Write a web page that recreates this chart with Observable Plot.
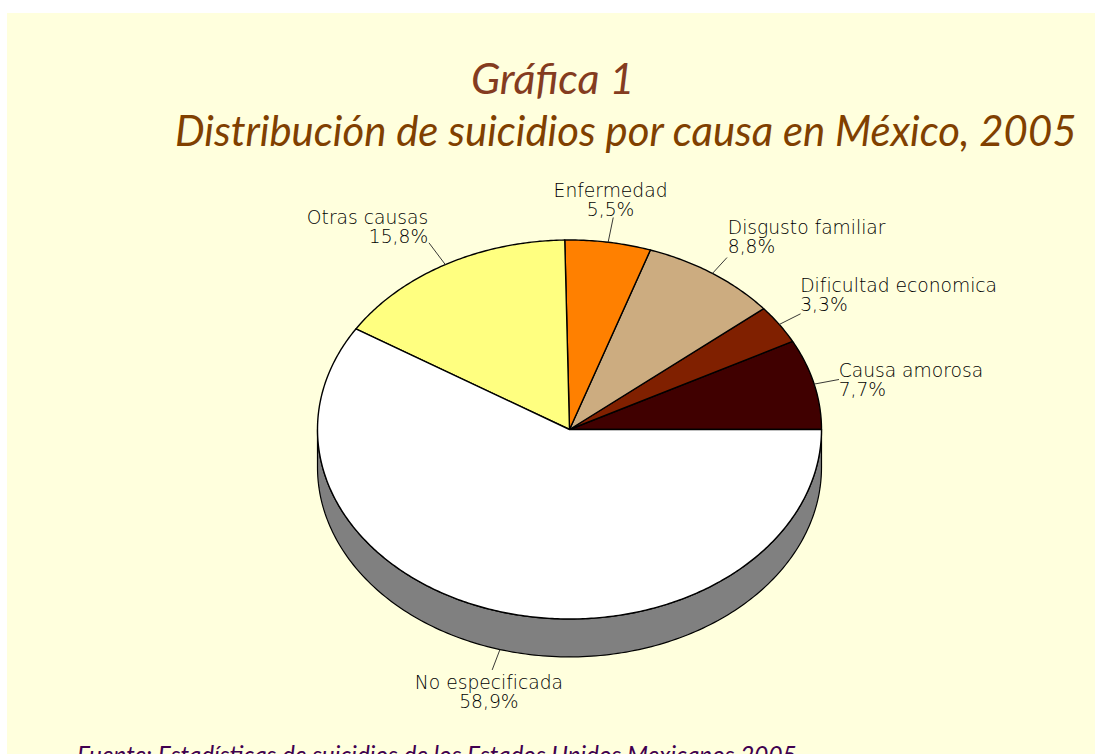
<!DOCTYPE html>
<html lang="es">
<head>
<meta charset="utf-8">
<title>Distribución de suicidios por causa en México, 2005</title>
<script src="https://cdn.jsdelivr.net/npm/d3@7"></script>
<script src="https://cdn.jsdelivr.net/npm/@observablehq/plot@0.6"></script>
<style>
  html, body { margin: 0; height: 754px; overflow: hidden; background: #fff; }
  #panel { position: absolute; left: 7px; top: 13px; width: 1088px; height: 741px; background: #ffffdd; overflow: hidden; }
  #head { position: absolute; left: 0; top: 0; width: 100%; height: 162px; }
  #head div { position: absolute; white-space: nowrap; font-family: Lato, sans-serif; font-style: italic; font-weight: 400; }
  #t1 { left: 464px; top: 39px; font-size: 43px; color: #843c20; }
  #t2 { left: 168px; top: 92px; font-size: 41.9px; color: #804000; }
  #chart { position: absolute; left: -7px; top: 162px; width: 1095px; }
  #chart svg { max-width: none; }
  #source { position: absolute; left: 70px; top: 727px; white-space: nowrap; color: #400050; font: italic 400 24.3px Lato, sans-serif; }
</style>
</head>
<body>
<div id="panel">
  <div id="head">
    <div id="t1">Gráfica 1</div>
    <div id="t2">Distribución de suicidios por causa en México, 2005</div>
  </div>
  <div id="chart"></div>
  <div id="source">Fuente: Estadísticas de suicidios de los Estados Unidos Mexicanos 2005</div>
</div>
<script>
// Shares of suicides by cause, percent, counter-clockwise from the three o'clock position.
const causes = ["Causa amorosa", "Dificultad economica", "Disgusto familiar", "Enfermedad", "Otras causas", "No especificada"];
const shares = [7.7, 3.3, 8.8, 5.5, 15.8, 58.9];
const sliceColors = ["#400000", "#802000", "#ccac80", "#ff8000", "#ffff80", "#ffffff"];

// Leader length as a multiple of the disc radius, and label placement
// relative to the end of each leader line, in pixels.
const leaderReach = [1.1, 1.1, 1.1, 1.13, 1.13, 1.11];
const labelAnchor = ["start", "start", "start", "middle", "end", "middle"];
const labelDx = [0, 0, 1, -2.6, -1, -3.4];
const labelDy = [0.5, -18.6, -20.3, -17.7, -16, 22.9];

const labelFont = "'DejaVu Sans', sans-serif";
const decimal = d3.format(".1f");
const wedges = d3.pie().sort(null).value((d) => d)(shares);

// The disc is a unit circle; the x and y scales squash it into the tilted ellipse.
const depth = 0.2;
const rim = (angle, reach = 1, drop = 0) => ({x: reach * Math.cos(angle), y: reach * Math.sin(angle) - drop});

const slicePoints = wedges.flatMap((w, i) => {
  const steps = Math.max(2, Math.ceil((w.endAngle - w.startAngle) * 90));
  const arc = d3.range(steps + 1).map((k) => rim(w.startAngle + (w.endAngle - w.startAngle) * k / steps));
  return [{x: 0, y: 0}, ...arc, {x: 0, y: 0}].map((p) => ({...p, cause: causes[i]}));
});

// Side wall: the front half of the rim, with its copy one depth lower.
const frontAngles = d3.range(0, 181).map((k) => Math.PI + k * Math.PI / 180);
const wall = [
  ...frontAngles.map((a) => rim(a)),
  ...frontAngles.slice().reverse().map((a) => rim(a, 1, depth))
];
wall.push(wall[0]);

// Leaders run radially from the visible rim; the front slice starts from the bottom of the wall.
const leaders = wedges.flatMap((w, i) => {
  const mid = (w.startAngle + w.endAngle) / 2;
  const drop = Math.sin(mid) < 0 ? depth : 0;
  return [rim(mid, 1, drop), rim(mid, leaderReach[i], drop)].map((p) => ({...p, cause: causes[i]}));
});
const labels = wedges.map((w, i) => {
  const mid = (w.startAngle + w.endAngle) / 2;
  const end = rim(mid, leaderReach[i], Math.sin(mid) < 0 ? depth : 0);
  return {...end, text: `${causes[i]}\n${decimal(shares[i]).replace(".", ",")}%`};
});

const chart = Plot.plot({
  width: 1095,
  height: 545,
  margin: 0,
  style: {background: "transparent"},
  x: {axis: null, domain: [-1, 1], range: [317, 821]},
  y: {axis: null, domain: [-1, 1], range: [443.5, 64.5]},
  color: {domain: causes, range: sliceColors},
  marks: [
    Plot.line(wall, {x: "x", y: "y", fill: "#808080", stroke: "#000", strokeWidth: 1.2}),
    Plot.line(slicePoints, {x: "x", y: "y", z: "cause", fill: "cause", stroke: "#000", strokeWidth: 1.4, strokeLinejoin: "round"}),
    Plot.line(leaders, {x: "x", y: "y", z: "cause", stroke: "#222", strokeWidth: 0.9}),
    ...labels.map((d, i) => Plot.text([d], {
      x: "x", y: "y", text: "text",
      dx: labelDx[i], dy: labelDy[i],
      textAnchor: labelAnchor[i],
      lineHeight: 1.02,
      fontSize: 18.7,
      fontWeight: 200,
      fontFamily: labelFont,
      fill: "#000"
    }))
  ]
});
document.getElementById("chart").append(chart);
</script>
</body>
</html>
